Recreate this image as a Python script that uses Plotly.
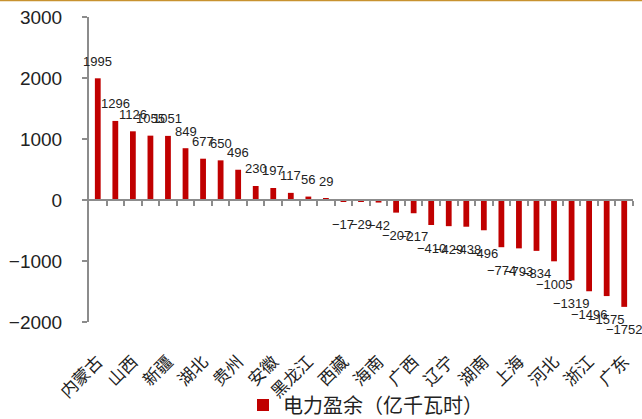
import plotly.graph_objects as go

# 各省电力盈余（亿千瓦时），按降序排列
provinces = ["内蒙古", "云南", "山西", "四川", "新疆", "宁夏", "湖北", "陕西",
             "贵州", "甘肃", "安徽", "吉林", "黑龙江", "青海", "西藏", "天津",
             "海南", "福建", "广西", "重庆", "辽宁", "江西", "湖南", "北京",
             "上海", "河南", "河北", "山东", "浙江", "江苏", "广东"]
surplus = [1995, 1296, 1126, 1055, 1051, 849, 677, 650, 496, 230, 197, 117, 56, 29,
           -17, -29, -42, -207, -217, -410, -429, -438, -496, -774, -793, -834,
           -1005, -1319, -1496, -1575, -1752]
shown_labels = provinces[::2]
y_ticks = [-2000, -1000, 0, 1000, 2000, 3000]

W, H = 642, 419
ML, MR, MT, MB = 89, 9, 17, 97
y_min, y_max = -2000, 3000
zero_pos = (0 - y_min) / (y_max - y_min)

bar_color = "#C00000"
axis_color = "#8C8C8C"
cjk = "Noto Sans CJK SC"
latin = "Liberation Sans, Arial, sans-serif"

plot_w = W - ML - MR
plot_h = H - MT - MB

fig = go.Figure()
fig.add_trace(go.Bar(
    x=provinces, y=surplus, name="电力盈余（亿千瓦时）",
    marker=dict(color=bar_color, line=dict(width=0)),
    width=0.33, showlegend=True,
))
# 零轴所用的辅助坐标轴（不可见占位点）
fig.add_trace(go.Scatter(
    x=[0], y=[0], xaxis="x2", yaxis="y", mode="markers",
    marker=dict(opacity=0), hoverinfo="skip", showlegend=False,
))

# 数据标签：正值在柱顶上方，负值在柱底下方
for name, v in zip(provinces, surplus):
    fig.add_annotation(
        x=name, y=v, text=str(v).replace("-", "−"), showarrow=False,
        yanchor="middle", xanchor="center",
        yshift=17 if v >= 0 else -23,
        font=dict(family=latin, size=13, color="#222222"),
    )

# 顶部装饰线
fig.add_shape(type="line", xref="paper", yref="paper",
              x0=-ML / plot_w, x1=(W - ML) / plot_w,
              y0=1 + (MT - 0.5) / plot_h, y1=1 + (MT - 0.5) / plot_h,
              line=dict(color="#C8922F", width=1.5))

fig.update_layout(
    width=W, height=H,
    margin=dict(l=ML, r=MR, t=MT, b=MB, autoexpand=False),
    paper_bgcolor="white", plot_bgcolor="white",
    bargap=0.67,
    showlegend=True,
    legend=dict(orientation="h", x=(243 - ML) / plot_w, xanchor="left",
                y=-(405 - (H - MB)) / plot_h, yanchor="middle",
                font=dict(family=cjk, size=20, color="#222222"),
                bgcolor="rgba(0,0,0,0)"),
    xaxis=dict(
        type="category", tickmode="array", tickvals=shown_labels,
        tickangle=-45, showline=False, ticks="outside", ticklen=22,
        tickcolor="rgba(0,0,0,0)", showgrid=False, zeroline=False,
        automargin=False,
        tickfont=dict(family=cjk, size=17, color="#222222"),
        range=[-0.5, len(provinces) - 0.5],
    ),
    # 零轴：带分类边界刻度
    xaxis2=dict(
        overlaying="x", anchor="free", position=zero_pos,
        range=[-0.5, len(provinces) - 0.5],
        tickmode="array", tickvals=[i + 0.5 for i in range(len(provinces))],
        showticklabels=False, ticks="outside", ticklen=5, tickwidth=2,
        tickcolor=axis_color, showline=True, linecolor=axis_color, linewidth=2,
        showgrid=False, zeroline=False, automargin=False,
    ),
    yaxis=dict(
        range=[y_min, y_max], tickmode="array", tickvals=y_ticks,
        ticktext=[str(t).replace("-", "−") for t in y_ticks],
        showline=True, linecolor=axis_color, linewidth=2,
        ticks="outside", ticklen=5, tickwidth=2, tickcolor=axis_color,
        showgrid=False, zeroline=False, ticklabelstandoff=16, automargin=False,
        tickfont=dict(family=latin, size=19, color="#222222"),
    ),
)

fig.write_html("out.html")
